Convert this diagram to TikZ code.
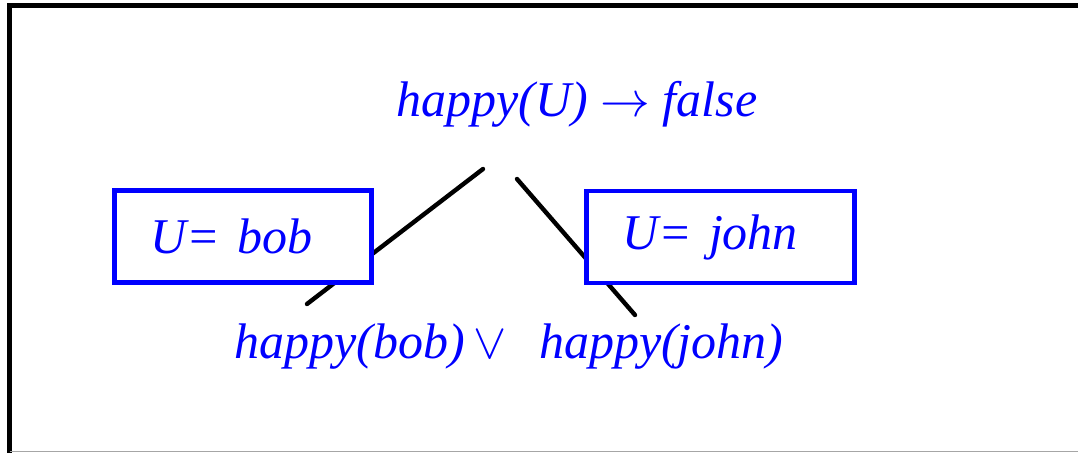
\documentclass[tikz,border=0pt]{standalone}
\usepackage{fontspec}
\setmainfont{Liberation Serif}
\usetikzlibrary{positioning}

\begin{document}
\begin{tikzpicture}[
  x=0.5pt, y=-0.5pt,
  lbl/.style={text=blue, font=\fontsize{25}{30}\selectfont\itshape, inner sep=0pt},
  box/.style={draw=blue, line width=2.4pt, fill=white, text=blue,
              font=\fontsize{25}{30}\selectfont\itshape, align=left,
              inner xsep=18pt, minimum height=46pt},
  link/.style={line width=2.2pt, line cap=round},
]
\useasboundingbox (0,0) rectangle (1078,453);
\draw[line width=2.5pt] (9.5,453) -- (9.5,5.5) -- (1078,5.5);
\draw[gray!70, line width=0.6pt] (9.5,451.5) -- (1078,451.5);
\node[lbl] (goal) at (577,104) {happy(U) $\rightarrow$ false};
\node[lbl] (res) at (509,347) {happy(bob)\,$\vee$\hspace{0.4em} happy(john)};
\coordinate (la) at (483,169);
\coordinate (lb) at (307,304);
\coordinate (ra) at (517,179);
\coordinate (rb) at (635,315);
\draw[link] (la) -- (lb);
\draw[link] (ra) -- (rb);
\node[box, text width=92.5pt] (bob) at (243,236.5) {U= bob};
\node[box, text width=98pt] (john) at (720.5,237) {U= john};
\end{tikzpicture}
\end{document}
